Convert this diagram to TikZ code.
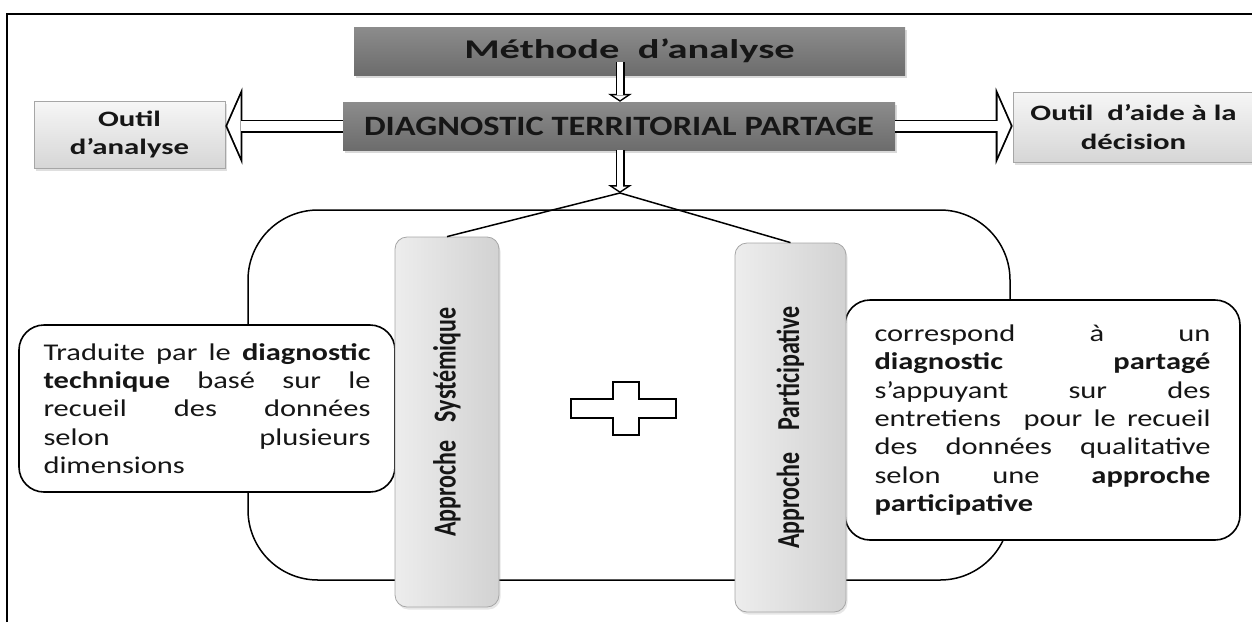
\documentclass[tikz,border=0pt]{standalone}
\usepackage{fontspec}
\setmainfont[FakeStretch=1.27]{Carlito}
\newfontfamily\titlefont[FakeStretch=1.5]{Carlito}
\newfontfamily\diagfont[FakeStretch=1.23]{Carlito}
\newfontfamily\toolfont[FakeStretch=1.4]{Carlito}
\newfontfamily\barfont[FakeStretch=0.75]{Carlito}
\usetikzlibrary{positioning,arrows.meta,shadows}

\definecolor{boxtop}{HTML}{8C8C8C}
\definecolor{boxbot}{HTML}{6C6C6C}
\definecolor{tooltop}{HTML}{F6F6F6}
\definecolor{toolbot}{HTML}{D6D6D6}
\definecolor{toolline}{HTML}{A6A6A6}
\definecolor{barleft}{HTML}{EDEDED}
\definecolor{barright}{HTML}{D2D2D2}
\definecolor{ink}{HTML}{161616}

\tikzset{node distance=2cm, auto,
  darkbox/.style={minimum height=48pt, inner sep=0pt, top color=boxtop, bottom color=boxbot,
    text=ink, drop shadow={shadow xshift=2pt, shadow yshift=-3pt, opacity=.3}},
  toolbox/.style={draw=toolline, line width=.6pt, top color=tooltop, bottom color=toolbot,
    inner sep=0pt, align=center, text=ink, font=\toolfont\bfseries\fontsize{22}{28.5}\selectfont,
    drop shadow={shadow xshift=2pt, shadow yshift=-3pt, opacity=.25}},
  barbox/.style={draw=toolline, line width=.8pt, rounded corners=12pt, inner sep=0pt,
    left color=barleft, right color=barright,
    drop shadow={shadow xshift=1.5pt, shadow yshift=-2.5pt, opacity=.2}},
  barlabel/.style={rotate=90, text=ink, font=\barfont\bfseries\fontsize{32}{34}\selectfont},
  textbox/.style={draw, line width=1.6pt, rounded corners=25pt, fill=white, inner sep=0pt,
    align=justify, text=ink, font=\fontsize{24}{28.3}\selectfont,
    execute at begin node={\tolerance=10000 \hbadness=10000}},
  link/.style={line width=1.5pt},
  bigout/.style={line width=13pt, -{Triangle[length=17pt, width=77pt, line width=0pt]}},
  bigin/.style={line width=9.4pt, white, shorten >=2pt, -{Triangle[length=13.2pt, width=60pt, line width=0pt]}},
  smallout/.style={line width=9pt, -{Triangle[length=8pt, width=24pt, line width=0pt]}},
  smallin/.style={line width=6pt, white, shorten >=1.8pt, -{Triangle[length=4.7pt, width=14pt, line width=0pt]}},
}

\begin{document}
\begin{tikzpicture}[x=1pt, y=-1pt]
  \useasboundingbox (0,0) rectangle (1252,622);
  \draw[line width=1.3pt] (7,622) |- (1252,14);

  % top row
  \node (meth) [darkbox, minimum width=551pt, font=\titlefont\bfseries\fontsize{27}{30}\selectfont] at (629.5,51) {Méthode~~d’analyse};
  \node (diag) [darkbox, minimum width=552pt, font=\diagfont\bfseries\fontsize{28}{30}\selectfont] at (619,126) {DIAGNOSTIC TERRITORIAL PARTAGE};
  \node (tool1) [toolbox, minimum width=191pt, minimum height=67pt] at (129.5,134.5) {Outil\\d’analyse};
  \node (tool2) [toolbox, minimum width=241pt, minimum height=70pt] at (1133.5,127) {Outil~~d’aide à la\\décision};

  \draw[bigout] (diag.west) -- (diag.west -| tool1.east);
  \draw[bigin] (diag.west) -- (diag.west -| tool1.east);
  \draw[bigout] (diag.east) -- (diag.east -| tool2.west);
  \draw[bigin] (diag.east) -- (diag.east -| tool2.west);

  \coordinate (top) at (620,62);
  \coordinate (fork) at (620,193);
  \draw[smallout] (top) -- (diag.north -| top);
  \draw[smallin] (top) -- (diag.north -| top);
  \draw[smallout] (diag.south -| fork) -- (fork);
  \draw[smallin] (diag.south -| fork) -- (fork);

  % the two approaches
  \node (cadre) [draw, line width=1.5pt, rounded corners=70pt, minimum width=762pt, minimum height=370pt] at (629,395) {};

  \node (ltxt) [textbox, minimum width=376pt, minimum height=167pt, text width=327pt] at (207,408.5)
    {Traduite par le \textbf{diagnostic}\linebreak
     \textbf{technique} basé sur le\linebreak
     recueil des données\linebreak
     selon plusieurs\linebreak
     dimensions};
  \node (rtxt) [textbox, minimum width=395pt, minimum height=240pt, text width=336pt] at (1042.5,420)
    {correspond à un\linebreak
     \textbf{diagnostic} \textbf{partagé}\linebreak
     s’appuyant sur des\linebreak
     entretiens~~pour le recueil\linebreak
     des données qualitative\linebreak
     selon une \textbf{approche}\linebreak
     \textbf{participative}};

  \node (sys) [barbox, minimum width=104pt, minimum height=370pt] at (447,422) {};
  \node (part) [barbox, minimum width=111pt, minimum height=369pt] at (790.5,427.5) {};
  \node (sysl) [barlabel] at (sys) {Approche\hspace{18pt}Systémique};
  \node (partl) [barlabel] at (part) {Approche\hspace{22pt}Participative};

  \draw[link] (fork) -- (sys.north);
  \draw[link] (fork) -- (part.north);

  % plus sign
  \draw[line width=1.6pt, fill=white] (571,399) -- (613,399) -- (613,382) -- (639,382) -- (639,399)
    -- (676,399) -- (676,418) -- (639,418) -- (639,435) -- (613,435) -- (613,418) -- (571,418) -- cycle;
\end{tikzpicture}
\end{document}
